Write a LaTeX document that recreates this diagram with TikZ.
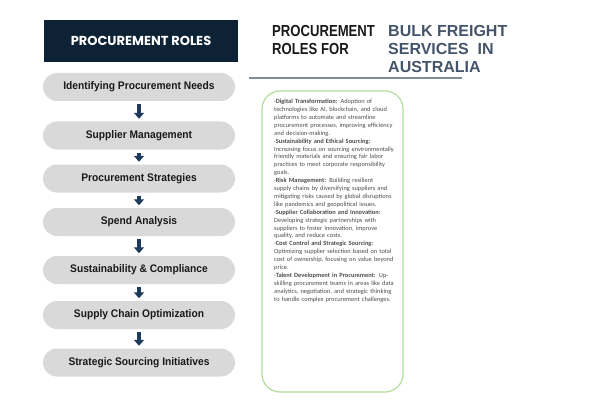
\documentclass[tikz,border=0pt]{standalone}
\usepackage{fontspec}
\setmainfont{Liberation Sans}
\newfontfamily\headfont{Poppins}
\newfontfamily\rolefont[FakeStretch=0.93]{Liberation Sans Bold}
\newfontfamily\titlefont[FakeStretch=0.82]{Liberation Sans Bold}
\newfontfamily\notefont{Carlito}
\usetikzlibrary{arrows.meta}
\definecolor{navy}{HTML}{0E2235}
\definecolor{pillgray}{HTML}{D9D9D9}
\definecolor{arrowblue}{HTML}{1F3B5C}
\definecolor{slateblue}{HTML}{44546A}
\definecolor{boxgreen}{HTML}{B2DD9C}
\definecolor{rulegray}{HTML}{7F8C9A}

\begin{document}
\begin{tikzpicture}[x=1pt,y=-1pt]
        \useasboundingbox (0,0) rectangle (602,401);

        \node[fill=navy,text=white,minimum width=194pt,minimum height=42pt,
              font=\headfont\bfseries\fontsize{13}{15}\selectfont] (head) at (141,41) {PROCUREMENT ROLES};

        \begin{scope}[every node/.style={fill=pillgray,rounded corners=14pt,minimum width=192pt,
                      minimum height=28pt,text=black!90,font=\rolefont\fontsize{11}{13}\selectfont}]
          \node (r1) at (139,87)    {Identifying Procurement Needs};
          \node (r2) at (139,135.5) {Supplier Management};
          \node (r3) at (139,178.5) {Procurement Strategies};
          \node (r4) at (139,222)   {Spend Analysis};
          \node (r5) at (139,270)   {Sustainability \& Compliance};
          \node (r6) at (139,315)   {Supply Chain Optimization};
          \node (r7) at (139,362.5) {Strategic Sourcing Initiatives};
        \end{scope}

        \begin{scope}[every edge/.style={draw=arrowblue,line width=3.5pt,
                      -{Triangle[width=10pt,length=6pt]},shorten <=3pt,shorten >=2.5pt}]
          \path (r1) edge (r2);
          \path (r2) edge (r3);
          \path (r3) edge (r4);
          \path (r4) edge (r5);
          \path (r5) edge (r6);
          \path (r6) edge (r7);
        \end{scope}

        \node[anchor=base west,align=left,inner sep=0pt,text=black!90,
              font=\titlefont\fontsize{16}{18}\selectfont] (title) at (272,55) {PROCUREMENT\\ROLES FOR};
        \node[anchor=base west,align=left,inner sep=0pt,text=slateblue,
              font=\bfseries\fontsize{16}{18}\selectfont] (subject) at (388,73) {BULK FREIGHT\\SERVICES\ \ IN\\AUSTRALIA};
        \draw[rulegray,line width=1.2pt] (249,78) -- (462,78);

        \node[draw=boxgreen,line width=1.2pt,rounded corners=18pt,minimum width=141pt,
              minimum height=301pt] (panel) at (332.5,241.5) {};
        \node[anchor=north west,text width=121pt,align=left,inner sep=0pt,text=black!70,
              font=\notefont\fontsize{6.4}{7.9}\selectfont] (notes) at (274,99) {%
          \hyphenpenalty=10000
          ·\textbf{Digital Transformation:} Adoption of technologies like AI, blockchain, and cloud platforms to automate and streamline procurement processes, improving efficiency and decision-making.\\
          ·\textbf{Sustainability and Ethical Sourcing:} Increasing focus on sourcing environmentally friendly materials and ensuring fair labor practices to meet corporate responsibility goals.\\
          ·\textbf{Risk Management:} Building resilient supply chains by diversifying suppliers and mitigating risks caused by global disruptions like pandemics and geopolitical issues.\\
          ·\textbf{Supplier Collaboration and Innovation:} Developing strategic partnerships with suppliers to foster innovation, improve quality, and reduce costs.\\
          ·\textbf{Cost Control and Strategic Sourcing:} Optimizing supplier selection based on total cost of ownership, focusing on value beyond price.\\
          ·\textbf{Talent Development in Procurement:} Upskilling procurement teams in areas like data analytics, negotiation, and strategic thinking to handle complex procurement challenges.};

      \end{tikzpicture}
\end{document}
